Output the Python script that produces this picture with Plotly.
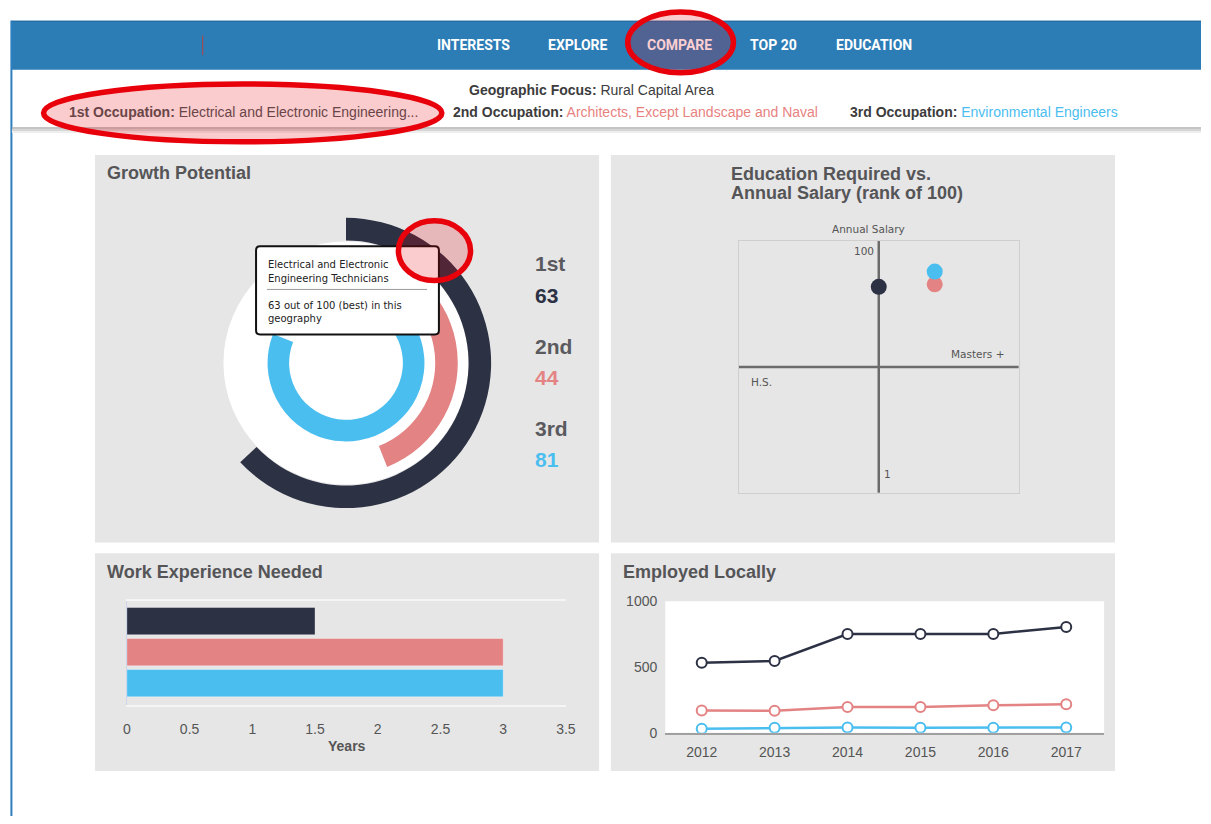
import plotly.graph_objects as go

W, H = 1211, 824


def X(px):
    return px / W


def Y(py):
    return 1 - py / H


# ---------------- data ----------------
nav_items = ["INTERESTS", "EXPLORE", "COMPARE", "TOP 20", "EDUCATION"]
geo_focus = "Rural Capital Area"
occupations = ["Electrical and Electronic Engineering...",
               "Architects, Except Landscape and Naval",
               "Environmental Engineers"]
occupation_full_1st = ["Electrical and Electronic", "Engineering Technicians"]
rank_labels = ["1st", "2nd", "3rd"]
growth_potential = [63, 44, 81]
education_level = [50, 70, 70]        # 0 = H.S. ... 100 = Masters +
salary_rank = [82, 83, 88]            # rank of 100
work_experience_years = [1.5, 3, 3]
work_ticks = [0, 0.5, 1, 1.5, 2, 2.5, 3, 3.5]
years = [2012, 2013, 2014, 2015, 2016, 2017]
employed_1st = [532, 545, 751, 751, 751, 804]
employed_2nd = [169, 166, 196, 196, 209, 216]
employed_3rd = [30, 37, 40, 37, 37, 40]
employed_ticks = [0, 500, 1000]

# ---------------- style ----------------
colors = ["#2c3144", "#e38383", "#4bbef0"]
SANS = "Liberation Sans, Arial, sans-serif"
SMALL = "DejaVu Sans, sans-serif"
NAV = "Roboto, sans-serif"
TITLE_C = "#555558"
RED = "#e8000b"
RED_FILL = "rgba(232,0,11,0.2)"

fig = go.Figure()

# ---------------- growth potential rings (polar) ----------------
ring_base = [125, 91, 58]
ring_thick = [23, 23, 22]
for i in range(3):
    sweep = growth_potential[i] * 3.6
    fig.add_trace(go.Barpolar(
        r=[ring_thick[i]], base=[ring_base[i]], theta=[sweep / 2], width=[sweep],
        marker=dict(color=colors[i], line=dict(width=0)),
        subplot="polar", hoverinfo="skip", showlegend=False))

# ---------------- education vs salary ----------------
for i in range(3):
    fig.add_trace(go.Scatter(
        x=[education_level[i]], y=[salary_rank[i]], mode="markers",
        marker=dict(size=16, color=colors[i]),
        xaxis="x", yaxis="y", hoverinfo="skip", showlegend=False))

# ---------------- work experience ----------------
fig.add_trace(go.Bar(
    x=work_experience_years, y=rank_labels, orientation="h", width=0.88,
    marker=dict(color=colors, line=dict(color="rgba(255,255,255,0.35)", width=1)),
    xaxis="x2", yaxis="y2", hoverinfo="skip", showlegend=False))

# ---------------- employed locally ----------------
for series, c in zip([employed_1st, employed_2nd, employed_3rd], colors):
    fig.add_trace(go.Scatter(
        x=years, y=series, mode="lines+markers",
        line=dict(color=c, width=2.5),
        marker=dict(size=10, color="white", line=dict(color=c, width=2)),
        xaxis="x3", yaxis="y3", hoverinfo="skip", showlegend=False))

# ---------------- shapes ----------------
shapes = []


def rect(x0, y0, x1, y1, fill, layer="below", line=None):
    shapes.append(dict(type="rect", xref="paper", yref="paper",
                       x0=X(x0), x1=X(x1), y0=Y(y1), y1=Y(y0),
                       fillcolor=fill, line=line or dict(width=0), layer=layer))


def hline(x0, x1, y, color, width, layer="below"):
    shapes.append(dict(type="line", xref="paper", yref="paper",
                       x0=X(x0), x1=X(x1), y0=Y(y), y1=Y(y),
                       line=dict(color=color, width=width), layer=layer))


def vline(x, y0, y1, color, width, layer="below"):
    shapes.append(dict(type="line", xref="paper", yref="paper",
                       x0=X(x), x1=X(x), y0=Y(y0), y1=Y(y1),
                       line=dict(color=color, width=width), layer=layer))


def ellipse(cx, cy, rx, ry, fill, line, layer="above"):
    shapes.append(dict(type="circle", xref="paper", yref="paper",
                       x0=X(cx - rx), x1=X(cx + rx), y0=Y(cy + ry), y1=Y(cy - ry),
                       fillcolor=fill, line=line, layer=layer))


# nav bar + page frame
rect(7, 13, 1211, 63, "#2c7cb6")
hline(7, 1211, 13.5, "#24699e", 1)
vline(7.5, 13, 824, "#2f7fbf", 2)
vline(201, 28, 48, "#b5433f", 1)
# subheader shadow
hline(8, 1211, 122.5, "#b0b0b0", 1.5)
hline(8, 1211, 124.5, "#d6d6d6", 2)
hline(8, 1211, 126.5, "#eeeeee", 2)
# panels
PANEL = "#e6e6e6"
rect(92, 150, 602, 545, PANEL)
rect(614, 150, 1124, 545, PANEL)
rect(92, 556, 602, 778, PANEL)
rect(614, 556, 1124, 778, PANEL)
# white disk behind rings
ellipse(346, 362, 124, 124, "white", dict(width=0), layer="below")
# employed plot area
shapes.append(dict(type="rect", xref="x3 domain", yref="y3 domain", x0=0, x1=1, y0=0, y1=1,
                   fillcolor="white", line=dict(width=0), layer="below"))
# quadrant axes of the education chart
shapes.append(dict(type="line", xref="x", yref="y domain", x0=50, x1=50, y0=0, y1=1,
                   line=dict(color="#6b6b6b", width=2.5), layer="below"))
shapes.append(dict(type="line", xref="x domain", yref="y", x0=0, x1=1, y0=50.5, y1=50.5,
                   line=dict(color="#6b6b6b", width=2.5), layer="below"))

# tooltip (rounded rect)
tx0, ty0, tx1, ty1, rr = 255, 243, 440, 333, 4
path = (f"M {X(tx0 + rr)},{Y(ty0)} L {X(tx1 - rr)},{Y(ty0)} Q {X(tx1)},{Y(ty0)} {X(tx1)},{Y(ty0 + rr)} "
        f"L {X(tx1)},{Y(ty1 - rr)} Q {X(tx1)},{Y(ty1)} {X(tx1 - rr)},{Y(ty1)} "
        f"L {X(tx0 + rr)},{Y(ty1)} Q {X(tx0)},{Y(ty1)} {X(tx0)},{Y(ty1 - rr)} "
        f"L {X(tx0)},{Y(ty0 + rr)} Q {X(tx0)},{Y(ty0)} {X(tx0 + rr)},{Y(ty0)} Z")
shapes.append(dict(type="path", xref="paper", yref="paper", path=path,
                   fillcolor="white", line=dict(color="#111111", width=2), layer="above"))
hline(266, 428, 287, "#9a9a9a", 1, layer="above")

# red highlight ellipses
ellipse(684.5, 35, 53.5, 31, RED_FILL, dict(color=RED, width=5.5))
ellipse(241.5, 107, 201.5, 29.5, RED_FILL, dict(color=RED, width=5.5))
ellipse(435.5, 247.5, 36.5, 30.5, RED_FILL, dict(color=RED, width=5.5))

# ---------------- annotations ----------------
anns = []


def txt(x, y, text, size, color, anchor="left", family=SANS, bold=False):
    anns.append(dict(x=X(x), y=Y(y), xref="paper", yref="paper",
                     text=f"<b>{text}</b>" if bold else text, showarrow=False,
                     xanchor=anchor, yanchor="middle", borderpad=0,
                     font=dict(size=size, color=color, family=family)))


nav_x = [474.5, 581, 683.5, 779, 880.5]
for name, xx in zip(nav_items, nav_x):
    txt(xx, 38, name, 14, "#fbd0d3" if name == "COMPARE" else "white", "center", NAV, True)

txt(594.5, 84, f"<b>Geographic Focus:</b> {geo_focus}", 14, "#3c3c3c", "center")
txt(65, 106, f"<b>1st Occupation:</b> {occupations[0]}", 14, "#6a4548")
txt(453, 106, f"<b>2nd Occupation:</b> <span style='color:#e8827f'>{occupations[1]}</span>",
    14, "#3c3c3c")
txt(855, 106, f"<b>3rd Occupation:</b> <span style='color:#4bbdf0'>{occupations[2]}</span>",
    14, "#3c3c3c")

# panel titles
txt(103, 168, "Growth Potential", 18, TITLE_C, bold=True)
txt(734, 169, "Education Required vs.", 18, TITLE_C, bold=True)
txt(734, 189, "Annual Salary (rank of 100)", 18, TITLE_C, bold=True)
txt(103, 575, "Work Experience Needed", 18, TITLE_C, bold=True)
txt(625, 575, "Employed Locally", 18, TITLE_C, bold=True)

# growth labels
value_colors = [colors[0], "#e38383", "#4bbef0"]
label_y = [261, 345, 428.5]
for lab, val, ly, vc in zip(rank_labels, growth_potential, label_y, value_colors):
    txt(536.5, ly, lab, 21, "#5a5a5e", bold=True)
    txt(536.5, ly + 32, str(val), 21, vc, bold=True)

# tooltip text
txt(266, 262, occupation_full_1st[0], 10, "#222222", family=SMALL)
txt(266, 276, occupation_full_1st[1], 10, "#222222", family=SMALL)
txt(266, 303, f"{growth_potential[0]} out of 100 (best) in this", 10, "#222222", family=SMALL)
txt(266, 317, "geography", 10, "#222222", family=SMALL)

# education chart labels
txt(875, 225, "Annual Salary", 10.5, "#555555", "center", SMALL)
txt(881, 248, "100", 10.5, "#555555", "right", SMALL)
txt(894, 475, "1", 10.5, "#555555", "center", SMALL)
txt(1013, 353, "Masters +", 10.5, "#555555", "right", SMALL)
txt(755, 381, "H.S.", 10.5, "#555555", "left", SMALL)

# work experience axis title
txt(347, 753, "Years", 14, "#555555", "center", bold=True)

# ---------------- layout ----------------
tick_font = dict(size=14, color="#555555", family=SANS)
fig.update_layout(
    width=W, height=H, autosize=False,
    margin=dict(l=0, r=0, t=0, b=0, pad=0),
    paper_bgcolor="white", plot_bgcolor="rgba(0,0,0,0)",
    showlegend=False, bargap=0.12,
    shapes=shapes, annotations=anns,
    polar=dict(
        domain=dict(x=[X(346 - 150), X(346 + 150)], y=[Y(362 + 150), Y(362 - 150)]),
        bgcolor="rgba(0,0,0,0)", hole=0,
        radialaxis=dict(range=[0, 150], visible=False, showgrid=False),
        angularaxis=dict(visible=False, rotation=90, direction="clockwise", showgrid=False)),
    xaxis=dict(domain=[X(743.5), X(1026.5)], range=[0, 100], showgrid=False, zeroline=False,
               showticklabels=False, showline=True, linecolor="#cfcfcf", linewidth=1,
               mirror=True, anchor="y", fixedrange=True),
    yaxis=dict(domain=[Y(494.3), Y(237.7)], range=[1, 100], showgrid=False, zeroline=False,
               showticklabels=False, showline=True, linecolor="#cfcfcf", linewidth=1,
               mirror=True, anchor="x", fixedrange=True),
    xaxis2=dict(domain=[X(124.3), X(568.5)], range=[0, 3.5], tickmode="array",
                tickvals=work_ticks, showgrid=False, zeroline=False, showline=True,
                linecolor="#f5f5f5", linewidth=2, mirror=True, ticks="",
                tickfont=tick_font, ticklabelstandoff=10, anchor="y2", fixedrange=True),
    yaxis2=dict(domain=[Y(710.7), Y(605)], type="category", categoryorder="array",
                categoryarray=rank_labels, range=[2.70, -0.64], showticklabels=False,
                showgrid=False, zeroline=False, showline=True, linecolor="#ccd6eb",
                linewidth=1, anchor="x2", fixedrange=True),
    xaxis3=dict(domain=[X(669), X(1113)], range=[2011.5, 2017.52], tickmode="array",
                tickvals=years, showgrid=False, zeroline=False, showline=True,
                linecolor="#a0a0a0", linewidth=1.5, ticks="", tickfont=tick_font,
                ticklabelstandoff=6, anchor="y3", fixedrange=True),
    yaxis3=dict(domain=[Y(739), Y(605)], range=[0, 1000], tickmode="array",
                tickvals=employed_ticks, showgrid=False, zeroline=False, showline=False,
                ticks="", tickfont=tick_font, ticklabelstandoff=7, anchor="x3",
                fixedrange=True),
)

fig.write_html("out.html", config={"displayModeBar": False},
               post_script="document.body.style.margin='0';"
                           "document.documentElement.style.overflow='hidden';")
